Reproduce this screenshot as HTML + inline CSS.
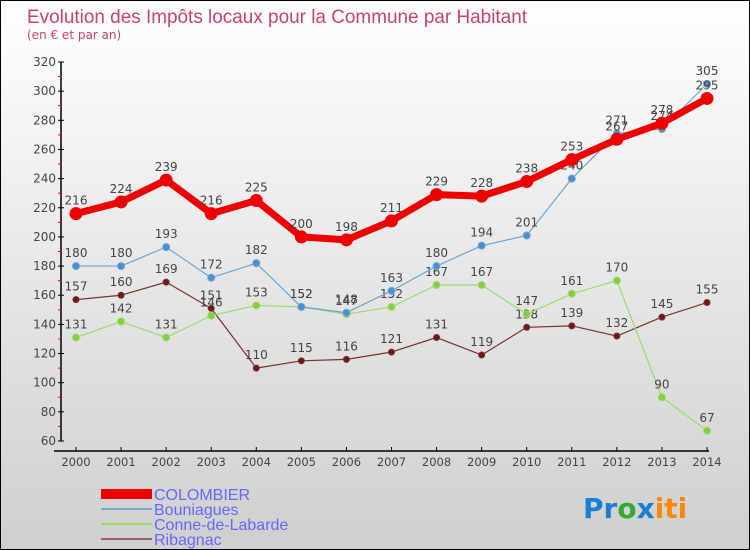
<!DOCTYPE html>
<html><head><meta charset="utf-8"><style>
body{margin:0}
#c{position:relative;width:748px;height:548px;border:1px solid #000;background:linear-gradient(#fff,#cfcfcf);font-family:"DejaVu Sans","Liberation Sans",sans-serif;overflow:hidden}
</style></head><body>
<div id="c">
<svg id="s" width="748" height="548">
<text x="26" y="22" font-size="19" fill="#c8426e" font-family="Liberation Sans" textLength="500" lengthAdjust="spacingAndGlyphs">Evolution des Impôts locaux pour la Commune par Habitant</text>
<text x="26" y="38" font-size="12" fill="#c8426e">(en € et par an)</text>
<g id="axes"></g><g id="series"></g>
<g font-size="16" fill="#6666ff" font-family="Liberation Sans">
<rect x="100" y="488" width="51" height="10" fill="#e00"/>
<text x="153" y="499">COLOMBIER</text>
<rect x="100" y="507" width="51" height="2" fill="#7aa8cc"/>
<text x="153" y="514">Bouniagues</text>
<rect x="100" y="522" width="51" height="2" fill="#99dd66"/>
<text x="153" y="529">Conne-de-Labarde</text>
<rect x="100" y="537" width="51" height="2" fill="#a06060"/>
<text x="153" y="544">Ribagnac</text>
</g>
<text x="582" y="517" font-size="28" font-weight="bold"><tspan fill="#1a7fd0">Pr</tspan><tspan fill="#33aa33">o</tspan><tspan fill="#1a7fd0">x</tspan><tspan fill="#ff8800">iti</tspan></text>
</svg></div>
<script>
const years=[2000,2001,2002,2003,2004,2005,2006,2007,2008,2009,2010,2011,2012,2013,2014];
const yTicks=[60,80,100,120,140,160,180,200,220,240,260,280,300,320];
const colombier=[216,224,239,216,225,200,198,211,229,228,238,253,267,278,295];
const bouniagues=[180,180,193,172,182,152,148,163,180,194,201,240,271,274,305];
const conne=[131,142,131,146,153,152,147,152,167,167,147,161,170,90,67];
const ribagnac=[157,160,169,151,110,115,116,121,131,119,138,139,132,145,155];
const NS='http://www.w3.org/2000/svg';
const X=i=>75+i*(706-75)/(years.length-1);
const Y=v=>440-(v-60)*(440-61)/260;
function mk(t,a,p){const e=document.createElementNS(NS,t);for(const k in a)e.setAttribute(k,a[k]);p.appendChild(e);return e;}
const ax=document.getElementById('axes');
const yl=mk('line',{x1:60,y1:61,x2:60,y2:440,stroke:'#000','stroke-width':1.5},ax);


const xl=mk('line',{x1:53,y1:450,x2:708,y2:450,stroke:'#000','stroke-width':1.5},ax);


yTicks.forEach(v=>{mk('line',{x1:57,y1:Y(v),x2:63,y2:Y(v),stroke:'#000'},ax);
if(v<320)mk('line',{x1:57,y1:Y(v+10),x2:60,y2:Y(v+10),stroke:'#f00'},ax);
const t=mk('text',{x:55,y:Y(v)+4,'text-anchor':'end','font-size':12,fill:'#444'},ax);t.textContent=v;

});
years.forEach((y,i)=>{mk('line',{x1:X(i),y1:446,x2:X(i),y2:450,stroke:'#000'},ax);
const t=mk('text',{x:X(i),y:465,'text-anchor':'middle','font-size':11.5,fill:'#444'},ax);t.textContent=y;

});
const sg=document.getElementById('series');
function series(d,col,w,r,name,dot){
const g=mk('g',{},sg);


const pl=mk('polyline',{points:d.map((v,i)=>X(i)+','+Y(v)).join(' '),fill:'none',stroke:col,'stroke-width':w,'stroke-linejoin':'round'},g);


d.forEach((v,i)=>{const c=mk('circle',{cx:X(i),cy:Y(v),r:r,fill:dot,stroke:col,'stroke-width':1},g);


const t=mk('text',{x:X(i),y:Y(v)-9,'text-anchor':'middle','font-size':12,fill:'#444'},g);t.textContent=v;

});}
series(ribagnac,'#7a3030',1.2,3,'ribagnac','#6a1a1a');
series(conne,'#99dd66',1.2,3.5,'conne-de-labarde','#88cc44');
series(bouniagues,'#6fa3cf',1.2,3.5,'bouniagues','#4a90d0');
series(colombier,'#e00',7,6,'colombier','#e00');
</script>
</body></html>
